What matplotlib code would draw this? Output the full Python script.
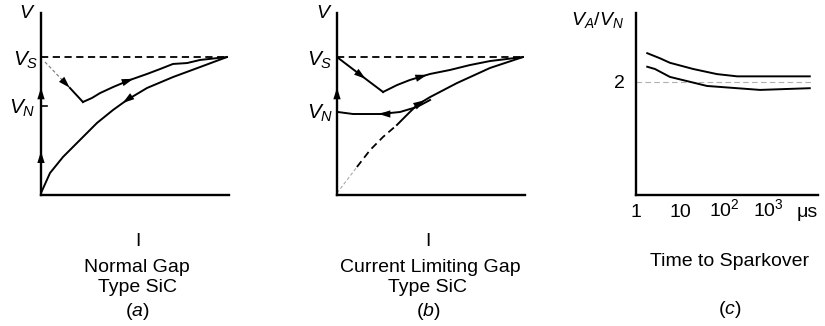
import numpy as np
import matplotlib
matplotlib.use("Agg")
import matplotlib.pyplot as plt

plt.rcParams['font.family'] = ['Liberation Sans', 'DejaVu Sans']
plt.rcParams['mathtext.fontset'] = 'custom'
plt.rcParams['mathtext.rm'] = 'Liberation Sans'
plt.rcParams['mathtext.it'] = 'Liberation Sans:italic'

# ---- panel (a): normal gap, I (0-10) vs V (0-10)
a_vs = 7.58
a_vn = 4.89
a_drop_x = [0.21, 1.54]            # dashed drop from Vs
a_drop_y = [7.31, 5.88]
a_min_x = [1.54, 2.23]
a_min_y = [5.88, 5.11]
a_up_x = [2.23, 2.71, 3.14, 3.83, 4.73, 5.64, 6.33, 7.02, 7.77, 8.46, 9.89]
a_up_y = [5.11, 5.33, 5.60, 5.93, 6.32, 6.65, 6.92, 7.20, 7.25, 7.42, 7.58]
a_lo_x = [9.89, 8.46, 7.02, 5.64, 4.57, 3.83, 2.98, 2.07, 1.17, 0.48, 0.0]
a_lo_y = [7.58, 7.03, 6.48, 5.88, 5.22, 4.67, 3.96, 3.02, 2.09, 1.21, 0.11]
a_axis_arrows = [5.9, 2.4]

# ---- panel (b): current limiting gap
b_vs = 7.58
b_vn = 4.56
b_down_x = [0.0, 1.60, 2.45]
b_down_y = [7.58, 6.32, 5.66]
b_up_x = [2.45, 3.19, 3.88, 4.95, 6.01, 7.07, 8.14, 9.89]
b_up_y = [5.66, 6.04, 6.32, 6.65, 6.87, 7.14, 7.36, 7.58]
b_rise_x = [3.19, 3.72, 4.26, 4.95, 6.38, 8.14, 9.89]
b_rise_y = [3.85, 4.40, 4.95, 5.38, 6.15, 6.98, 7.58]
b_dash_x = [1.06, 1.76, 2.45, 3.19]
b_dash_y = [1.54, 2.47, 3.19, 3.85]
b_faint_x = [0.0, 0.53, 1.06]
b_faint_y = [0.11, 0.82, 1.54]
b_vn_x = [4.95, 4.26, 3.35, 2.29, 0.85, 0.05]
b_vn_y = [5.22, 4.84, 4.56, 4.45, 4.45, 4.56]
b_axis_arrows = [5.9]

# ---- panel (c): VA/VN vs time to sparkover (us)
c_up_t = [1.8, 3.5, 5.9, 20, 69, 200, 8900]
c_up_r = [2.51, 2.42, 2.34, 2.23, 2.14, 2.10, 2.10]
c_lo_t = [1.8, 2.7, 5.9, 41, 200, 660, 3700, 8900]
c_lo_r = [2.27, 2.23, 2.09, 1.93, 1.89, 1.86, 1.88, 1.89]
c_ticks = [1, 10, 100, 1000, 8000]
c_ticklabels = ['1', '10', '$10^2$', '$10^3$', 'μs']

W, H = 825, 326
fig = plt.figure(figsize=(W / 100, H / 100), dpi=100)

def px_axes(x0, y_top, w, h):
    return fig.add_axes([x0 / W, 1 - (y_top + h) / H, w / W, h / H])

LW = 1.4
AX_LW = 1.7
FS = 14
arrow_kw = dict(arrowstyle='-|>,head_length=0.7,head_width=0.22',
                color='black', lw=0, mutation_scale=12, shrinkA=0, shrinkB=0)

def head(ax, xs, ys, i, frac=0.6):
    # arrowhead on segment i of a curve, pointing along the curve
    x = xs[i] + frac * (xs[i + 1] - xs[i])
    y = ys[i] + frac * (ys[i + 1] - ys[i])
    tx = x - 0.05 * (xs[i + 1] - xs[i])
    ty = y - 0.05 * (ys[i + 1] - ys[i])
    ax.annotate('', xy=(x, y), xytext=(tx, ty), arrowprops=arrow_kw)

def style_vi(ax):
    ax.set_xlim(0, 10)
    ax.set_ylim(0, 10)
    for s in ['top', 'right']:
        ax.spines[s].set_visible(False)
    for s in ['left', 'bottom']:
        ax.spines[s].set_linewidth(AX_LW)
    ax.set_xticks([])
    ax.set_yticks([])
    ax.patch.set_alpha(0)

def label(ax, txt, y, dx, dy, size=FS):
    ax.annotate(txt, xy=(0, y), xycoords=('axes fraction', 'data'),
                xytext=(dx, dy), textcoords='offset pixels',
                ha='center', va='center', fontsize=size, annotation_clip=False)

# (a)
ax = px_axes(41, 13, 188, 182)
style_vi(ax)
ax.plot([0, 9.89], [a_vs, a_vs], color='black', lw=1.3, dashes=(4, 2.5))
ax.plot(a_drop_x, a_drop_y, color='#777777', lw=0.8, dashes=(3, 2))
ax.plot(a_min_x, a_min_y, color='black', lw=LW)
ax.plot(a_up_x, a_up_y, color='black', lw=LW)
ax.plot(a_lo_x, a_lo_y, color='black', lw=LW)
ax.plot([0, 0.3], [a_vn, a_vn], color='black', lw=1.2, clip_on=False)
head(ax, a_drop_x, a_drop_y, 0, 0.99)
head(ax, a_up_x, a_up_y, 4, 0.2)
head(ax, a_lo_x, a_lo_y, 4, 0.3)
for yv in a_axis_arrows:
    ax.annotate('', xy=(0, yv), xytext=(0, yv - 0.1), arrowprops=arrow_kw,
                annotation_clip=False)
label(ax, '$V$', 10, -14, -1)
label(ax, '$V_S$', a_vs, -15, -3, 15)
label(ax, '$V_N$', a_vn, -19, -2, 15)

# (b)
ax = px_axes(337, 13, 188, 182)
style_vi(ax)
ax.plot([0, 9.89], [b_vs, b_vs], color='black', lw=1.3, dashes=(4, 2.5))
ax.plot(b_down_x, b_down_y, color='black', lw=LW)
ax.plot(b_up_x, b_up_y, color='black', lw=LW)
ax.plot(b_rise_x, b_rise_y, color='black', lw=LW)
ax.plot(b_dash_x, b_dash_y, color='black', lw=1.3, dashes=(4, 2.5))
ax.plot(b_faint_x, b_faint_y, color='#aaaaaa', lw=0.8, dashes=(3, 2))
ax.plot(b_vn_x, b_vn_y, color='black', lw=LW)
head(ax, b_down_x, b_down_y, 0, 0.95)
head(ax, b_up_x, b_up_y, 2, 0.85)
head(ax, b_vn_x, b_vn_y, 3, 0.05)
head(ax, b_rise_x, b_rise_y, 2, 0.6)
for yv in b_axis_arrows:
    ax.annotate('', xy=(0, yv), xytext=(0, yv - 0.1), arrowprops=arrow_kw,
                annotation_clip=False)
label(ax, '$V$', 10, -13, -1)
label(ax, '$V_S$', b_vs, -17, -3, 15)
label(ax, '$V_N$', b_vn, -17, -1, 15)

# (c)
ax = px_axes(636, 13, 182, 182)
ax.set_xscale('log')
ax.set_xlim(1, 10 ** (182 / 44))
ax.set_ylim(0, 182 / 56.5)
for s in ['top', 'right']:
    ax.spines[s].set_visible(False)
for s in ['left', 'bottom']:
    ax.spines[s].set_linewidth(AX_LW)
ax.plot([1, 10 ** 3.99], [2, 2], color='#b0b0b0', lw=0.8, dashes=(5, 3))
ax.plot(c_up_t, c_up_r, color='black', lw=LW)
ax.plot(c_lo_t, c_lo_r, color='black', lw=LW)
ax.set_xticks(c_ticks)
ax.set_xticklabels(c_ticklabels, fontsize=FS, va='baseline')
ax.xaxis.set_minor_locator(matplotlib.ticker.NullLocator())
ax.set_yticks([2])
ax.set_yticklabels(['2'], fontsize=FS)
ax.tick_params(length=0)
ax.tick_params(axis='x', pad=15.5)
ax.tick_params(axis='y', pad=8)
ax.patch.set_alpha(0)
ax.text(-0.21, 0.96, '$V_A/V_N$', transform=ax.transAxes, ha='center',
        va='center', fontsize=FS)

# captions
def ftxt(x, y, s):
    fig.text(x / W, 1 - y / H, s, ha='center', va='center', fontsize=FS)

ftxt(138, 242, 'I')
ftxt(137, 267, 'Normal Gap')
ftxt(137, 288, 'Type SiC')
ftxt(137, 312, '($a$)')
ftxt(428, 242, 'I')
ftxt(430, 267, 'Current Limiting Gap')
ftxt(428, 288, 'Type SiC')
ftxt(428, 312, '($b$)')
ftxt(730, 262, 'Time to Sparkover')
ftxt(730, 310, '($c$)')

fig.savefig('out.png', dpi=100)
